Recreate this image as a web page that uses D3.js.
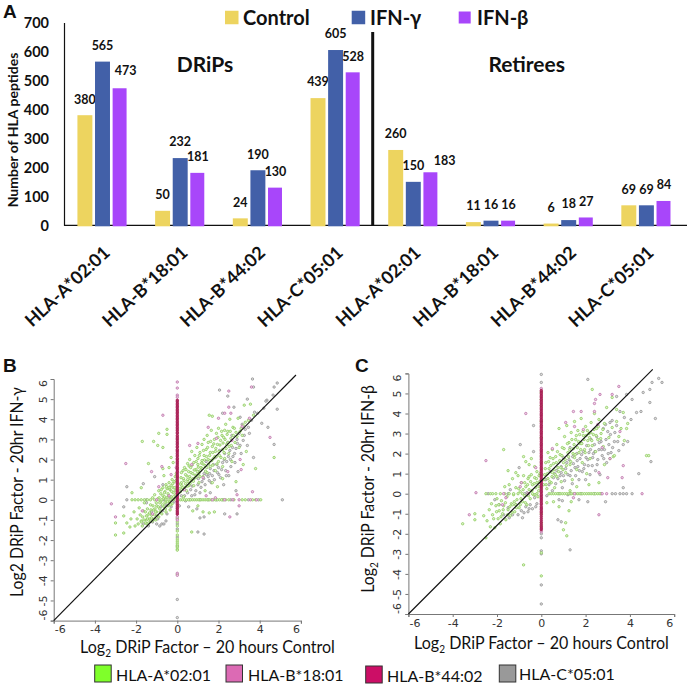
<!DOCTYPE html>
<html>
<head>
<meta charset="utf-8">
<script src="https://cdn.jsdelivr.net/npm/d3@7"></script>
<style>
html, body { margin: 0; padding: 0; background: #fff; overflow: hidden; }
svg { display: block; }
text { font-family: Lato, "Open Sans", sans-serif; fill: #111; }
.num text { font-family: "DejaVu Sans", sans-serif; fill: #333; font-size: 11px; }
</style>
</head>
<body>
<script>
// 图A 数据
const alleles = ["HLA-A*02:01", "HLA-B*18:01", "HLA-B*44:02", "HLA-C*05:01",
                 "HLA-A*02:01", "HLA-B*18:01", "HLA-B*44:02", "HLA-C*05:01"];
const treatments = ["Control", "IFN-γ", "IFN-β"];
const controlVals = [380, 50, 24, 439, 260, 11, 6, 69];
const gammaVals = [565, 232, 190, 605, 150, 16, 18, 69];
const betaVals = [473, 181, 130, 528, 183, 16, 27, 84];
const alleleLegend = ["HLA-A*02:01", "HLA-B*18:01", "HLA-B*44:02", "HLA-C*05:01"];

// 图B 散点
const bGreen = [[-3,-1.75],[-3,-1.15],[-2.6,-1.65],[-2.6,-0.8],[-2.45,-1.15],[-2.3,-1.35],[-2.25,-0.95],[-2.1,-0.6],[-2.05,-1.3],[-1.95,-0.95],[-1.9,-1.2],[-1.85,-0.4],[-1.8,-0.75],[-1.75,-1.05],[-1.7,-1.3],[-1.65,-0.55],[-1.6,-0.15],[-1.55,-1.15],[-1.5,-0.8],[-1.5,-1.0],[-1.45,-0.45],[-1.4,-1.15],[-1.35,-0.65],[-1.3,-0.25],[-1.3,-1.05],[-1.25,-0.9],[-1.2,0.1],[-1.15,-0.5],[-1.1,-0.75],[-1.1,0.25],[-1.05,-1.0],[-1,-0.3],[-1,-0.6],[-0.95,0.05],[-0.9,-0.85],[-0.9,0.45],[-0.85,-0.45],[-0.8,-0.1],[-0.8,0.3],[-0.75,-0.7],[-0.7,0.2],[-0.7,0.6],[-0.65,-0.35],[-0.6,-0.15],[-0.6,0.4],[-0.55,0.75],[-0.55,-0.6],[-0.5,0.1],[-0.5,0.55],[-0.45,-0.3],[-0.45,0.3],[-0.4,0.85],[-0.4,-0.1],[-0.35,0.5],[-0.35,-0.5],[-0.3,0.15],[-0.3,0.7],[-0.25,1.0],[-0.25,-0.2],[-0.2,0.35],[-0.2,0.6],[-0.15,0.9],[-0.15,0.05],[-0.1,0.45],[-0.1,1.15],[-1.7,2.9],[-1.15,2.9],[-0.95,2.7],[-0.9,3.3],[-0.5,3.25],[-0.5,3.5],[-0.7,2.6],[-1.4,1.8],[-2.2,0.35],[-1.75,0.6],[-0.7,1.55],[-0.65,1.2],[-0.3,2.1],[-0.4,1.6],[-0.2,1.85],[0.15,0.4],[0.2,0.85],[0.2,1.35],[0.25,0.6],[0.3,1.05],[0.3,0.15],[0.35,1.6],[0.4,0.8],[0.4,1.25],[0.45,0.45],[0.5,1.0],[0.5,1.8],[0.55,1.4],[0.55,0.7],[0.6,2.0],[0.6,1.15],[0.65,1.6],[0.7,0.95],[0.7,2.4],[0.75,1.3],[0.8,1.85],[0.8,0.7],[0.85,2.2],[0.9,1.5],[0.9,1.1],[0.95,2.6],[1,1.75],[1,2.05],[1.05,1.3],[1.05,0.85],[1.1,2.35],[1.15,1.6],[1.2,2.75],[1.2,1.95],[1.25,1.15],[1.3,2.2],[1.3,3.0],[1.35,1.7],[1.4,2.5],[1.45,1.35],[1.45,3.2],[1.5,2.0],[1.5,2.85],[1.55,4.2],[1.6,2.35],[1.6,1.65],[1.65,3.45],[1.7,2.65],[1.7,4.15],[1.75,2.05],[1.8,3.0],[1.85,1.45],[1.85,2.4],[1.9,3.3],[1.95,2.75],[2,1.9],[2,3.55],[2.05,2.2],[2.1,2.95],[2.15,3.4],[2.2,2.5],[2.2,1.65],[2.25,3.1],[2.3,2.05],[2.35,3.75],[2.4,2.75],[2.45,3.4],[2.5,2.3],[2.55,4.0],[2.6,3.05],[2.65,1.9],[2.7,3.6],[2.8,2.85],[2.85,3.35],[2.95,4.05],[3,2.6],[3.1,3.55],[3.15,3.2],[3.2,1.75],[3.25,4.7],[3.3,3.85],[3.35,2.4],[3.45,3.95],[3.55,4.75],[3.7,4.2],[3.8,1.55],[4.7,2.1],[2.85,0.9],[2.2,1.05],[1.7,0.85],[1.35,0.45],[1.95,0.65],[0.7,-1.6],[0.75,-0.55],[1.25,-0.6],[1,-0.3],[1.55,-0.65],[1.8,-0.6],[2.3,3.45]];
const bGreenDense = [[0.12,0.55],[0.18,1.1],[0.22,0.7],[0.28,1.45],[0.33,0.95],[0.38,0.62],[0.42,1.5],[0.47,1.18],[0.52,0.9],[0.57,1.68],[0.62,0.82],[0.66,1.35],[0.72,1.72],[0.77,1.05],[0.82,1.48],[0.87,1.22],[0.92,1.9],[0.97,1.4],[1.02,1.62],[1.07,2.2],[1.12,1.45],[1.17,1.82],[1.22,1.55],[1.27,2.45],[1.32,1.98],[1.37,1.42],[1.42,2.15],[1.47,2.6],[1.52,1.78],[1.57,2.2],[1.62,2.9],[1.67,1.95],[1.72,2.35],[1.77,2.78],[1.82,2.15],[1.87,2.55],[1.92,1.78],[1.97,3.1],[2.02,2.4],[2.07,2.72],[2.12,2.1],[2.17,3.2],[2.22,2.82],[2.27,2.35],[2.32,3.0],[2.37,2.55],[2.42,3.25],[2.47,2.85],[2.52,2.65],[2.57,3.4],[2.62,2.7],[2.72,3.2],[2.77,3.55],[2.9,3.15],[3.05,3.4],[3.2,3.7],[0.15,0.78],[0.3,0.5],[0.48,0.68],[0.63,1.05],[0.78,0.92],[0.95,1.22],[1.1,1.15],[1.25,1.78],[1.43,1.6],[1.58,1.95],[1.72,1.72],[1.9,2.15],[-1.75,-1.1],[-1.68,-0.85],[-1.62,-1.0],[-1.55,-0.6],[-1.47,-1.2],[-1.42,-0.75],[-1.37,-0.95],[-1.28,-0.5],[-1.22,-1.05],[-1.18,-0.3],[-1.12,-0.95],[-1.08,-0.45],[-1.02,-0.15],[-0.98,-0.8],[-0.92,-0.35],[-0.88,0.1],[-0.82,-0.6],[-0.78,0.5],[-0.72,-0.25],[-0.68,0.05],[-0.62,0.35],[-0.58,-0.45],[-0.52,0.65],[-0.48,-0.1],[-0.42,0.2],[-0.38,0.55],[-0.32,-0.25],[-0.28,0.42],[-0.22,0.8],[-0.18,0.15],[-0.12,0.6],[-0.08,0.25],[-0.06,0.95],[-0.05,1.3],[-0.4,0.62],[-0.62,0.15],[-0.85,-0.15],[-1.05,-0.6],[-1.25,-0.75],[-1.45,-0.95]];
const bGray = [[5.1,0],[4.85,5.8],[4.7,5.6],[3.65,6.0],[3.7,5.6],[4.85,4.5],[4.65,5.2],[4.35,4.95],[4.4,3.6],[4.7,2.75],[3.7,2.1],[2.05,5.45],[1.3,-1.7],[1,-1.6],[2.9,-0.7],[2.3,-0.7],[1.1,-0.9],[-0.85,-1.3],[-0.75,-1.2],[-0.65,-1.2],[-0.55,-1.05],[-1,-1.2],[-2.45,0.65],[-2.6,-0.35],[-1.65,0.8],[-1.1,1.15],[-0.7,0.75],[-1.5,-0.15],[-1.25,-0.6],[-0.8,-0.35],[-0.5,-0.7],[-0.3,-0.35],[-0.15,-0.1],[0.2,0.2],[0.3,0.55],[0.4,-0.05],[0.5,0.35],[0.55,-0.35],[0.65,0.5],[0.7,0.2],[0.8,1.05],[0.9,0.45],[0.95,-0.45],[1,0.75],[1.05,1.4],[1.1,0.35],[1.2,0.9],[1.3,1.3],[1.35,0.75],[1.4,1.9],[1.5,1.15],[1.55,0.95],[1.6,1.55],[1.7,1.2],[1.75,1.75],[1.8,1],[1.85,2.1],[1.95,1.35],[2,1.6],[2.05,2.45],[2.1,1.1],[2.2,1.85],[2.25,0.75],[2.3,2.3],[2.35,1.45],[2.4,1.9],[2.45,2.85],[2.5,1.2],[2.55,2.45],[2.6,1.65],[2.65,3.2],[2.7,2.15],[2.8,1.85],[2.85,2.55],[2.9,3],[2.95,1.4],[3,3.3],[3.1,2.3],[3.15,3.75],[3.2,2.95],[3.3,3.5],[3.4,2.7],[3.5,3.3],[3.6,3.95],[3.75,4.35],[3.9,4.3],[4.2,4.55],[4.3,4.9],[4.1,3.8],[2.85,0.45],[1.6,0.35],[2.45,5.15],[2.75,4.6],[3.05,4.1],[3.4,5],[2.2,4.3],[1.3,-0.85],[0.58,0.75],[0.72,0.68],[0.85,0.25],[1.02,1.05],[1.15,0.62],[1.28,1.05],[1.42,1.25],[1.57,1.3],[1.65,0.85],[1.78,1.45],[1.92,1.75],[2.02,1.25],[2.15,1.5],[2.28,2.0],[2.38,1.2],[2.48,2.15],[2.58,2.0],[2.68,2.6],[2.78,2.3],[2.92,2.8],[3.05,2.7],[3.25,3.2],[3.45,3.6],[-1.65,-1.2],[-1.4,-1.3],[-1.2,-1.1],[-0.95,-0.95],[-0.72,-0.55],[-0.55,-0.25],[-0.35,0.05],[0.1,-0.3],[0.35,0.2]];
const bPink = [[3.6,5.6],[2.5,5.4],[2.5,4.6],[2.6,4.3],[2.3,4.3],[-0.7,4.2],[4.5,3.1],[-2.5,1.8],[-3.2,-0.2],[-3,-0.85],[3,-0.3],[2.55,-0.85],[2.9,0.25],[1.5,3.6],[2,4.05],[1.9,3.05],[-1.25,1.4],[-0.75,1.65],[-1.7,-0.55],[-1.2,-0.7],[-0.9,0.65],[-0.4,0.2],[0.6,2.7],[1.4,0.2],[1,2.8],[1.85,0.1],[2.45,1.4],[3.05,2],[3.15,3.65],[3.5,4.05],[3.65,0.4],[0.7,1.75],[1.25,1.1],[0.35,0.5],[2.65,2.95],[-0.3,1.25],[3.1,1.5],[-0.05,1.6]];
const bCrimsonCol = [-0.72,-0.66,-0.6,-0.53,-0.45,-0.4,-0.32,-0.25,-0.18,-0.1,-0.04,0.04,0.1,0.17,0.24,0.3,0.38,0.45,0.5,0.58,0.65,0.72,0.8,0.86,0.93,1,1.08,1.15,1.2,1.28,1.36,1.42,1.5,1.56,1.62,1.7,1.78,1.85,1.92,2,2.06,2.15,2.22,2.3,2.38,2.45,2.5,2.6,2.66,2.75,2.82,2.9,2.98,3.05,3.12,3.2,3.3,3.36,3.45,3.52,3.6,3.68,3.75,3.82,3.9,3.98,4.05,4.12,4.2,4.28,4.35,4.42,4.5,4.58,4.65,4.72,4.8,4.88,4.95];
const bPinkCol = [5.85,5.55,5.2,5.1,-3.65,-3.75,-0.85,-1];
const bGreenCol = [-0.9,-1.1,-1.3,-1.55,-1.75,-1.95,-2.05,-2.15,-2.25,-2.35,-2.45,-2.5,-3.7];
const bGrayCol = [-0.95,-1.2,-1.45,-1.85,-2.3,-4.95,-5.85];
const bGreenRow = [-2.2,-2.05,-1.9,-1.75,-1.6,-1.45,-1.3,-1.1,-0.9,-0.75,-0.55,-0.35,-0.2,0.15,0.25,0.35,0.45,0.55,0.65,0.75,0.85,0.95,1.05,1.15,1.25,1.35,1.45,1.55,1.65,1.75,1.85,1.95,2.05,2.15,2.25,2.35,2.5,2.75,3.15,3.3,3.65,3.8,4.05];
const bGrayRow = [-2.45,-1.5,-0.65,0.6,1.1,1.5,1.9,2.2,2.6,3.45,3.95];
const bPinkRow = [-1,1.7,2.3,2.7,3,3.55,3.85];

// 图C 散点
const cGreen = [[-3.55,-1.5],[-3,-1],[-3,-1.3],[-2.5,-2.2],[-0.8,-3.55],[-1.7,2.2],[-1.5,1.15],[4.75,1.9],[4.85,1.9],[1.1,-1.45],[1.15,-2.1],[1,-1.8],[1.25,-0.85],[2.3,5.2],[3.2,4.8],[3.4,4.2],[3.9,3.5],[-2.6,-1.1],[-2.45,-1.35],[-2.35,-0.8],[-2.3,-1.65],[-2.25,-0.5],[-2.2,-1.05],[-2.1,-1.7],[-2.05,-0.6],[-2,-0.25],[-1.95,-1.25],[-1.9,-0.85],[-1.85,-1.5],[-1.8,-0.35],[-1.75,-1],[-1.7,-0.6],[-1.65,0.35],[-1.6,-1.3],[-1.55,-0.15],[-1.5,-0.8],[-1.45,0.45],[-1.4,-1.1],[-1.35,-0.5],[-1.3,0.75],[-1.25,-0.05],[-1.2,-0.9],[-1.15,0.3],[-1.1,-0.3],[-1.05,0.9],[-1,-0.7],[-0.95,0.1],[-0.9,0.55],[-0.85,-0.4],[-0.8,0.9],[-0.75,-0.1],[-0.7,0.35],[-0.65,-0.55],[-0.6,0.75],[-0.55,0.2],[-0.5,-0.25],[-0.45,0.95],[-0.4,0.45],[-0.35,-0.05],[-0.3,0.8],[-0.25,0.3],[-0.2,1.1],[-0.2,0.55],[-0.15,-0.15],[-0.1,0.9],[-0.1,0.35],[-1.15,1.05],[-0.8,1.85],[-0.7,1.6],[-0.45,1.75],[-0.3,1.35],[-0.55,1.45],[0.1,0.45],[0.15,0.95],[0.2,1.55],[0.25,0.25],[0.3,2.05],[0.3,0.75],[0.35,1.25],[0.4,1.8],[0.45,0.55],[0.5,1.05],[0.5,2.2],[0.55,1.5],[0.6,0.3],[0.65,1.85],[0.7,0.85],[0.7,2.45],[0.75,1.3],[0.8,3.25],[0.85,1.95],[0.9,0.6],[0.95,2.3],[1,1.55],[1.05,2.85],[1.1,1.05],[1.15,3.4],[1.2,2.05],[1.25,2.55],[1.3,1.45],[1.35,3.05],[1.4,0.7],[1.45,2.25],[1.5,3.6],[1.5,1.8],[1.55,2.7],[1.6,1.2],[1.65,3.15],[1.7,2.05],[1.75,2.5],[1.8,3.75],[1.85,1.55],[1.9,2.9],[1.95,2.2],[2,3.35],[2.05,1],[2.1,2.65],[2.15,3],[2.2,1.75],[2.25,3.55],[2.3,2.4],[2.35,2.95],[2.4,4],[2.45,2.1],[2.5,3.25],[2.55,2.7],[2.6,3.7],[2.7,3],[2.8,2.35],[2.85,3.5],[2.95,4.3],[3.05,2.8],[3.1,1.75],[3.2,3.3],[3.25,1.85],[3.3,1.9],[3.4,3.6],[3.5,2.85],[3.6,3.25],[3.75,2.65],[3.85,3.25],[3.7,4.05],[2.6,0.55],[2.15,0.45],[1.6,0.35],[1.3,0.15],[2.85,1.45],[0.55,-0.4],[0.25,-0.45],[0.8,-0.65],[1.35,-0.4]];
const cGreenDense = [[0.12,0.7],[0.18,1.25],[0.22,0.45],[0.28,1.0],[0.33,1.6],[0.38,0.6],[0.43,1.4],[0.48,0.85],[0.53,1.75],[0.58,1.2],[0.63,0.95],[0.68,1.55],[0.73,2.1],[0.78,1.1],[0.83,1.65],[0.88,1.3],[0.93,1.9],[0.98,1.2],[1.03,2.25],[1.08,1.7],[1.13,1.4],[1.18,2.5],[1.23,1.85],[1.28,2.2],[1.33,1.6],[1.38,2.7],[1.43,2.0],[1.48,2.45],[1.53,1.95],[1.58,2.9],[1.63,2.3],[1.68,2.6],[1.73,2.95],[1.78,2.2],[1.83,2.5],[1.88,3.1],[1.93,2.7],[1.98,2.05],[2.03,2.9],[2.08,3.15],[2.13,2.4],[2.18,2.8],[2.23,3.05],[2.28,2.65],[2.38,3.2],[2.48,2.9],[2.58,3.35],[2.68,2.75],[2.78,3.2],[-2.15,-1.25],[-2.02,-0.9],[-1.92,-0.55],[-1.82,-1.15],[-1.72,-0.8],[-1.62,-0.45],[-1.52,-1.05],[-1.42,-0.65],[-1.32,-0.95],[-1.22,-0.4],[-1.12,-0.7],[-1.02,0.25],[-0.92,-0.25],[-0.82,0.2],[-0.72,-0.45],[-0.62,0.45],[-0.58,-0.1],[-0.48,0.6],[-0.42,0.15],[-0.32,0.5],[-0.28,-0.05],[-0.22,0.75],[-0.12,0.15],[-0.08,0.6],[-0.06,1.0],[-1.3,-0.55],[-1.15,-0.55],[-0.95,-0.55],[-0.75,0.55],[-0.55,0.85]];
const cGray = [[2.1,5.7],[5.3,5.75],[5,5.55],[5.45,5.55],[4.9,5.2],[4.6,5.05],[4.9,4.55],[4.3,4.05],[4.5,4.1],[5.15,3.75],[4.4,1],[4.95,1.6],[1.3,-2.8],[-0.95,2.45],[-0.35,3.4],[-0.35,2.1],[-1,1.3],[-2.1,-0.3],[-1.9,-0.55],[-1.5,-0.7],[-1.3,-1.05],[-1.15,-0.55],[-0.9,-0.85],[-0.85,-1.2],[-0.7,-0.65],[-0.6,-0.9],[-0.5,-0.55],[-0.4,-0.75],[-0.3,-0.2],[-0.2,-0.5],[-0.65,0.05],[-1.4,0.2],[0.2,0.7],[0.25,-0.1],[0.35,0.45],[0.4,1.1],[0.5,0.15],[0.55,0.8],[0.65,0.5],[0.7,1.15],[0.8,-0.3],[0.85,0.9],[0.9,1.35],[0.95,0.3],[1,1.8],[1.05,0.65],[1.1,1.25],[1.2,0.95],[1.25,1.7],[1.3,2.3],[1.35,1.15],[1.4,0.5],[1.45,1.5],[1.55,0.9],[1.6,2],[1.65,1.35],[1.7,0.7],[1.75,1.75],[1.8,2.55],[1.85,1.1],[1.9,2.1],[1.95,1.45],[2,0.7],[2.05,2.4],[2.1,1.7],[2.15,2.05],[2.2,0.95],[2.25,2.7],[2.3,1.4],[2.35,2],[2.4,2.45],[2.45,1.15],[2.5,2.85],[2.55,1.7],[2.6,2.2],[2.65,0.95],[2.7,2.6],[2.75,1.9],[2.8,3.25],[2.85,2.2],[2.9,3.45],[2.95,1.55],[3,3.1],[3.05,2.45],[3.1,3.55],[3.15,2.05],[3.2,3.65],[3.3,2.6],[3.4,3.4],[3.5,2.15],[3.55,4.1],[3.7,2.45],[3.75,3.8],[3.9,2.6],[4.05,3.7],[4.1,4.7],[3.7,0.3],[3.4,4.85],[2.9,-0.4],[2.1,-0.4],[1.7,-0.3],[1.2,-0.05],[0.95,-0.35],[0.75,-1.3],[0.9,-1.4],[3.85,4.95],[0.6,1.0],[0.75,0.75],[0.9,1.05],[1.0,0.9],[1.15,1.55],[1.3,0.9],[1.42,1.85],[1.52,1.3],[1.62,1.65],[1.72,1.15],[1.82,1.95],[1.92,1.25],[2.02,1.8],[2.12,1.4],[2.22,2.2],[2.32,1.8],[2.42,2.1],[2.52,1.45],[2.62,2.55],[2.72,2.2],[2.82,1.75],[2.92,2.7],[3.02,2.0],[3.12,2.95],[3.22,2.3],[3.32,3.05],[3.45,2.6],[-1.7,-1.05],[-1.45,-1.2],[-1.05,-1.05],[-0.78,-0.95],[-0.55,-0.75],[-0.25,-0.65]];
const cPink = [[-0.7,4],[-2.5,1.65],[-2.95,0.05],[-3.25,-1.05],[3.5,5.35],[4.55,0],[2.6,-1.05],[2.65,4.95],[3.2,4.95],[2.4,4.5],[3.1,1.75],[2.45,4.7],[1.45,4.1],[1.8,4.1],[2.4,4.1],[2.55,3.45],[1.1,3.55],[1.5,3.35],[3.7,1.4],[3.65,0.8],[3,0.8],[3.55,3.1],[2.6,1.05],[1.45,-0.2],[-1.75,-0.55],[-1.6,-0.2],[-0.9,0.55],[-0.95,0.35],[-0.25,1.3],[0.5,2.25],[1.9,3.2],[2.75,2.3]];
const cCrimsonCol = [-1.8,-1.72,-1.65,-1.55,-1.45,-1.35,-1.25,-1.15,-1.05,-0.95,-0.88,-0.8,-0.72,-0.65,-0.55,-0.48,-0.4,-0.32,-0.25,-0.18,-0.1,-0.04,0.05,0.12,0.2,0.28,0.35,0.42,0.5,0.58,0.65,0.72,0.8,0.88,0.95,1.02,1.1,1.18,1.25,1.32,1.4,1.48,1.55,1.62,1.7,1.78,1.85,1.92,2,2.08,2.15,2.22,2.3,2.38,2.45,2.52,2.6,2.68,2.75,2.82,2.9,2.98,3.05,3.12,3.2,3.28,3.35,3.42,3.5,3.58,3.65,3.72,3.8,3.88,3.95,4.02,4.1,4.18,4.25,4.32,4.4,4.48,4.55,4.62,4.7,4.78,4.85,4.92,5,5.08,5.15];
const cGreenCol = [-1,-1.45,-1.6,-2.95,-4.1,4.4,3.6,2.8,5.05,4.7];
const cGrayCol = [5.95,5.55,-2,-2.2,-2.85,-3,-4.55,-5.5];
const cPinkCol = [5.25,-1.9];
const cGreenRow = [-2.5,-2.3,-2.2,-2.05,-1.85,-1.65,-1.45,-1.25,-1.05,-0.85,-0.6,-0.4,-0.2,0.35,0.45,0.55,0.65,0.75,0.85,0.95,1.05,1.15,1.25,1.35,1.45,1.55,1.65,1.75,1.85,1.95,2.05,2.15,2.25,2.35,2.45,2.55,2.65];
const cGrayRow = [-2.4,-1.5,-0.75,0.8,1.3,1.8,2.4,2.7,3.2,3.35,3.55,3.7,3.85,4.1];
const cPinkRow = [-1.7,-0.6,1.5,2.75,2.95];

let width = 687;
let height = 685;
let svg = d3.select("body").append("svg").attr("width", width).attr("height", height);

let barColors = {"Control": "#EDD45F", "IFN-γ": "#4260A8", "IFN-β": "#A846FA"};
let allele = {A: "#8CCB58", B: "#BC70A8", B44: "#A3174F", C: "#929292"};

// ---------- 图A 柱状图 ----------
let xGroup = d3.scaleBand().domain(d3.range(alleles.length)).range([63.65, 685.25]);
let xBar = d3.scaleBand().domain(treatments).range([-26.4, 26.4]).paddingInner(0.15).paddingOuter(0.075);
let yBar = d3.scaleLinear().domain([0, 700]).range([225.3, 22.5]);
let barSeries = [controlVals, gammaVals, betaVals];

let gA = svg.append("g");
gA.append("g").attr("transform", "translate(64,0)")
    .call(d3.axisLeft(yBar).tickValues(d3.range(0, 701, 100)).tickSize(0).tickPadding(15))
    .call(g => {
        g.select(".domain").attr("stroke", "#111").attr("stroke-width", 1.2);
        g.selectAll("text").attr("font-size", 14.5).attr("font-weight", 700)
            .attr("font-family", "Lato").attr("dy", "0.34em").attr("fill", "#111");
    });
gA.append("line").attr("x1", 64).attr("x2", 687).attr("y1", yBar(0)).attr("y2", yBar(0))
    .attr("stroke", "#111").attr("stroke-width", 1.2);

// 标签偏移: 大多数在柱顶上方16px, 两个手动移开
let labelNudge = {"0-2": [5.6, -17.6], "4-2": [13.8, -12]};

treatments.forEach((t, s) => {
    barSeries[s].forEach((v, i) => {
        let x0 = xGroup(i) + xGroup.bandwidth() / 2 + xBar(t);
        gA.append("rect")
            .attr("x", x0).attr("y", yBar(v))
            .attr("width", xBar.bandwidth() - (s == 2 ? 1 : 0))
            .attr("height", yBar(0) - yBar(v) + 1)
            .attr("fill", barColors[t]);
        let nudge = labelNudge[i + "-" + s] || [0, -16];
        gA.append("text")
            .attr("x", x0 + xBar.bandwidth() / 2 + nudge[0])
            .attr("y", yBar(v) + nudge[1])
            .attr("dy", "0.35em")
            .attr("text-anchor", "middle")
            .attr("font-size", 12.5).attr("font-weight", 700)
            .text(v);
    });
});

alleles.forEach((d, i) => {
    let cx = xGroup(i) + xGroup.bandwidth() / 2;
    gA.append("text")
        .attr("transform", `translate(${cx},${245}) rotate(-43)`)
        .attr("text-anchor", "end").attr("dy", "0.7em")
        .attr("font-size", 18).attr("font-weight", 700)
        .text(d);
});

gA.append("text").attr("transform", "translate(13,130) rotate(-90)")
    .attr("text-anchor", "middle").attr("dy", "0.35em")
    .attr("font-size", 14).attr("font-weight", 700).text("Number of HLA peptides");
gA.append("line").attr("x1", 372.7).attr("x2", 372.7).attr("y1", 32).attr("y2", 225.3)
    .attr("stroke", "#111").attr("stroke-width", 3);
gA.append("text").attr("x", 205).attr("y", 65).attr("text-anchor", "middle").attr("dy", "0.35em")
    .attr("font-size", 21).attr("font-weight", 700).text("DRiPs");
gA.append("text").attr("x", 526.7).attr("y", 65).attr("text-anchor", "middle").attr("dy", "0.35em")
    .attr("font-size", 21).attr("font-weight", 700).text("Retirees");

// 顶部图例
let topLegend = [[225, 13.5, 243], [351.7, 13.5, 370], [458.7, 12, 477]];
treatments.forEach((t, i) => {
    let p = topLegend[i];
    gA.append("rect").attr("x", p[0]).attr("y", 17.5 - p[1] / 2).attr("width", p[1]).attr("height", p[1])
        .attr("fill", barColors[t]);
    gA.append("text").attr("x", p[2]).attr("y", 17.5).attr("dy", "0.35em")
        .attr("font-size", 20).attr("font-weight", 700).text(t);
});

// 面板字母
[["A", 3, 18], ["B", 3, 372], ["C", 355, 372]].forEach(d => {
    svg.append("text").attr("x", d[1]).attr("y", d[2])
        .style("font-family", "Liberation Sans")
        .attr("font-size", 19).attr("font-weight", 700).text(d[0]);
});

// ---------- 图B/C 散点 ----------
function log2Title(sel, before, after) {
    sel.append("tspan").text(before);
    sel.append("tspan").attr("font-size", 11).attr("dy", 4).text("2");
    sel.append("tspan").attr("dy", -4).text(after);
}

// 按目标长度横向压缩文字 (Lato比原图字体宽)
function fitTitle(sel, target, prefix) {
    let sx = target / sel.node().getComputedTextLength();
    sel.attr("transform", `${prefix} scale(${sx},1)`);
}

function drawScatter(cfg) {
    let x = d3.scaleLinear().domain([-6, 6]).range(cfg.xRange);
    let y = d3.scaleLinear().domain([-6, 6]).range(cfg.yRange);
    let g = svg.append("g");
    let ticks = d3.range(-6, 7, 2);

    g.append("g").attr("class", "num").attr("transform", `translate(0,${cfg.yRange[0]})`)
        .call(d3.axisBottom(x).tickValues(ticks).tickSize(3).tickPadding(2).tickFormat(d => d))
        .call(a => {
            a.selectAll("path,line").attr("stroke", "#777");
            a.selectAll("text").attr("dx", d => d == -6 ? 6 : d == 6 ? -5 : 0);
        });
    let yTicks = d3.range(-6, 7);
    g.append("g").attr("class", "num").attr("transform", `translate(${cfg.xRange[0]},0)`)
        .call(d3.axisLeft(y).tickValues(yTicks).tickSize(3).tickPadding(1).tickFormat(d => d))
        .call(a => {
            a.selectAll("path,line").attr("stroke", "#777");
            a.selectAll("text")
                .attr("text-anchor", "middle").attr("dy", 0)
                .attr("transform", d => `translate(-7,${d == -6 ? -6 : d == 6 ? 4 : 0}) rotate(-90)`)
                .attr("x", 0).attr("y", 0);
        });

    // 画点: 灰 -> 绿 -> 粉 -> 深红
    let layers = [
        [cfg.gray.concat(cfg.grayCol.map(v => [0, v]), cfg.grayRow.map(v => [v, 0])), allele.C, "#dedede"],
        [cfg.green.concat(cfg.greenCol.map(v => [0, v]), cfg.greenRow.map(v => [v, 0])), allele.A, "#dff2d0"],
        [cfg.pink.concat(cfg.pinkCol.map(v => [0, v]), cfg.pinkRow.map(v => [v, 0])), allele.B, "#eed4e6"],
        [cfg.crimsonCol.map(v => [0, v]), allele.B44, "#b83a6a"]
    ];
    layers.forEach(l => {
        g.append("g").selectAll("circle").data(l[0]).join("circle")
            .attr("cx", d => x(d[0])).attr("cy", d => y(d[1])).attr("r", 1.2)
            .attr("fill", l[2]).attr("stroke", l[1]).attr("stroke-width", 0.8);
    });

    g.append("line")
        .attr("x1", x(-6)).attr("y1", y(-6))
        .attr("x2", x(cfg.lineEnd[0])).attr("y2", y(cfg.lineEnd[1]))
        .attr("stroke", "#111").attr("stroke-width", 1.2);

    let xt = g.append("text")
        .attr("text-anchor", "middle").attr("dy", "0.35em").attr("font-size", 17.5);
    log2Title(xt, "Log", " DRiP Factor – 20 hours Control");
    fitTitle(xt, cfg.xTitle[2], `translate(${cfg.xTitle[0]},${cfg.xTitle[1]})`);
    let yt = g.append("text")
        .attr("text-anchor", "middle").attr("dy", "0.35em").attr("font-size", 17.5);
    if (cfg.plainLog) yt.text(cfg.yLabel);
    else log2Title(yt, "Log", cfg.yLabel);
    fitTitle(yt, cfg.yTitle[2], `translate(${cfg.yTitle[0]},${cfg.yTitle[1]}) rotate(-90)`);
}

drawScatter({
    xRange: [53.7, 300.9], yRange: [620.6, 379],
    green: bGreen.concat(bGreenDense), gray: bGray, pink: bPink,
    crimsonCol: bCrimsonCol, pinkCol: bPinkCol, greenCol: bGreenCol, grayCol: bGrayCol,
    greenRow: bGreenRow, grayRow: bGrayRow, pinkRow: bPinkRow,
    lineEnd: [5.76, 6.2], xTitle: [207.5, 647, 255], yTitle: [17, 492, 210],
    plainLog: true, yLabel: "Log2 DRiP Factor - 20hr IFN-γ"
});
drawScatter({
    xRange: [408.4, 674.2], yRange: [614, 373.4],
    green: cGreen.concat(cGreenDense), gray: cGray, pink: cPink,
    crimsonCol: cCrimsonCol, pinkCol: cPinkCol, greenCol: cGreenCol, grayCol: cGrayCol,
    greenRow: cGreenRow, grayRow: cGrayRow, pinkRow: cPinkRow,
    lineEnd: [5.03, 6.2], xTitle: [541.5, 642.7, 255], yTitle: [368, 489, 208],
    plainLog: false, yLabel: " DRiP Factor - 20hr IFN-β"
});

// 底部图例
let alleleFill = ["#7FFF2A", "#DC6AB4", "#CC0E66", "#999999"];
let bottomLegend = [[94.7, 665, 116, 675], [226, 665, 248, 675], [365.7, 666, 387, 676.7], [499.3, 665, 519, 674]];
alleleLegend.forEach((d, i) => {
    let p = bottomLegend[i];
    svg.append("rect").attr("x", p[0]).attr("y", p[1]).attr("width", 16.5).attr("height", 17)
        .attr("fill", alleleFill[i]).attr("stroke", "#333").attr("stroke-width", 1);
    svg.append("text").attr("x", p[2]).attr("y", p[3]).attr("dy", "0.35em")
        .attr("font-size", 16).text(d);
});
</script>
</body>
</html>
